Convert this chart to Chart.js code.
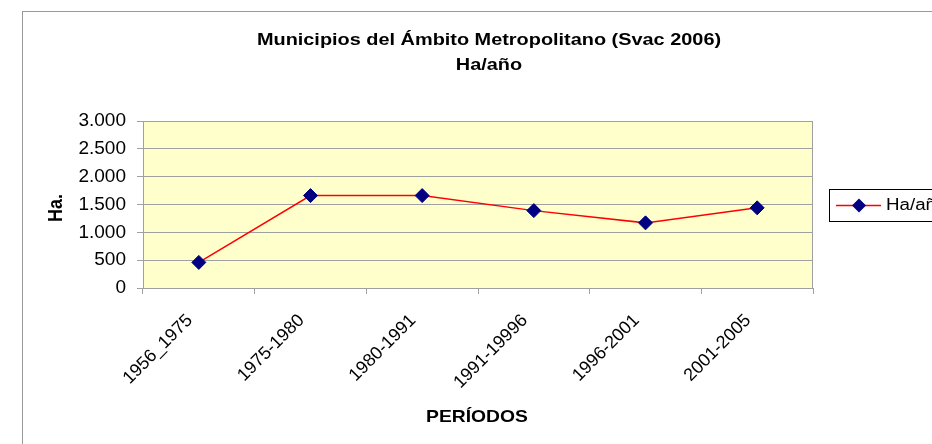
<!DOCTYPE html>
<html>
<head>
<meta charset="utf-8">
<script src="https://cdn.jsdelivr.net/npm/chart.js@4.4.1/dist/chart.umd.min.js"></script>
<style>
  html, body { margin: 0; padding: 0; background: #fff; overflow: hidden; }
  #wrap { width: 932px; height: 444px; }
</style>
</head>
<body>
<div id="wrap"><canvas id="chart" width="932" height="444"></canvas></div>
<script>
// data
const periods = ['1956_1975', '1975-1980', '1980-1991', '1991-19996', '1996-2001', '2001-2005'];
const haPerYear = [460, 1660, 1660, 1390, 1170, 1440];
const yMin = 0;
const yMax = 3000;
const yStep = 500;
const titleLines = ['Municipios del Ámbito Metropolitano (Svac 2006)', 'Ha/año'];
const seriesLabel = 'Ha/año';
const yTitle = 'Ha.';
const xTitle = 'PERÍODOS';

const fontFamily = "'Liberation Sans', Arial, sans-serif";
const gridGray = '#A0A0A0';
const lineRed = '#FF0000';
const markerNavy = '#000080';
const plotFill = '#FFFFCC';
const stretch = 1.17; // the source picture is a bit wide

const thousands = v => String(v).replace(/\B(?=(\d{3})+(?!\d))/g, '.');

// draws text stretched horizontally around (x, y)
function wideText(ctx, text, x, y, rot) {
  ctx.save();
  ctx.translate(x, y);
  if (rot) ctx.rotate(rot);
  ctx.scale(rot ? 1 : stretch, rot ? stretch : 1);
  ctx.fillText(text, 0, 0);
  ctx.restore();
}

const decor = {
  id: 'decor',
  beforeDraw(chart) {
    const { ctx, chartArea: a } = chart;
    ctx.save();
    ctx.fillStyle = '#fff';
    ctx.fillRect(0, 0, chart.width, chart.height);
    ctx.strokeStyle = '#999999';
    ctx.lineWidth = 1;
    ctx.strokeRect(22.5, 11.5, 1000, 1000);
    ctx.fillStyle = plotFill;
    ctx.fillRect(a.left, a.top, a.right - a.left, a.bottom - a.top);
    ctx.restore();
  },
  beforeDatasetsDraw(chart) {
    const { ctx, chartArea: a } = chart;
    ctx.save();
    ctx.strokeStyle = gridGray;
    ctx.lineWidth = 1;
    ctx.strokeRect(a.left + 0.5, a.top + 0.5, a.right - a.left - 1, a.bottom - a.top);
    ctx.restore();
  },
  afterDraw(chart) {
    const { ctx } = chart;
    ctx.save();
    ctx.fillStyle = '#000';
    // title
    ctx.font = 'bold 17px ' + fontFamily;
    ctx.textAlign = 'center';
    ctx.textBaseline = 'alphabetic';
    wideText(ctx, titleLines[0], 489, 45);
    wideText(ctx, titleLines[1], 489, 70);
    // axis titles
    ctx.font = 'bold 16.5px ' + fontFamily;
    wideText(ctx, xTitle, 477, 422);
    ctx.font = 'bold 18px ' + fontFamily;
    ctx.textBaseline = 'middle';
    wideText(ctx, yTitle, 56, 208, -Math.PI / 2);
    // legend
    ctx.strokeStyle = '#000';
    ctx.lineWidth = 1;
    ctx.strokeRect(829.5, 189.5, 200, 32);
    ctx.strokeStyle = lineRed;
    ctx.lineWidth = 1.5;
    ctx.beginPath();
    ctx.moveTo(836, 205.5);
    ctx.lineTo(881, 205.5);
    ctx.stroke();
    ctx.fillStyle = markerNavy;
    ctx.beginPath();
    ctx.moveTo(859, 198.5);
    ctx.lineTo(866, 205.5);
    ctx.lineTo(859, 212.5);
    ctx.lineTo(852, 205.5);
    ctx.closePath();
    ctx.fill();
    ctx.fillStyle = '#000';
    ctx.font = '16px ' + fontFamily;
    ctx.textAlign = 'left';
    ctx.textBaseline = 'middle';
    wideText(ctx, seriesLabel, 886, 206);
    ctx.restore();
  }
};

new Chart(document.getElementById('chart'), {
  type: 'line',
  data: {
    labels: periods,
    datasets: [{
      label: seriesLabel,
      data: haPerYear,
      borderColor: lineRed,
      borderWidth: 1.5,
      tension: 0,
      pointStyle: 'rectRot',
      pointRadius: 7,
      pointHoverRadius: 7,
      pointBackgroundColor: markerNavy,
      pointBorderColor: markerNavy,
      pointBorderWidth: 1
    }]
  },
  options: {
    responsive: false,
    animation: false,
    devicePixelRatio: 1,
    layout: { padding: { left: 0, top: 121, right: 119, bottom: 0 } },
    plugins: {
      legend: { display: false },
      title: { display: false },
      tooltip: { enabled: false }
    },
    scales: {
      x: {
        offset: true,
        grid: { offset: true, drawOnChartArea: false, color: gridGray, tickLength: 6 },
        border: { display: false },
        ticks: {
          color: '#000',
          font: { family: fontFamily, size: 18 },
          minRotation: 45,
          maxRotation: 45,
          autoSkip: false,
          padding: 16,
          labelOffset: -9
        },
        afterFit(scale) { scale.height = 156; }
      },
      y: {
        min: yMin,
        max: yMax,
        grid: { color: gridGray, tickLength: 6 },
        border: { display: false },
        ticks: {
          stepSize: yStep,
          color: '#000',
          font: { family: fontFamily, size: 19 },
          padding: 11,
          callback: v => thousands(v)
        },
        afterFit(scale) { scale.width = 143; }
      }
    }
  },
  plugins: [decor]
});
</script>
</body>
</html>
